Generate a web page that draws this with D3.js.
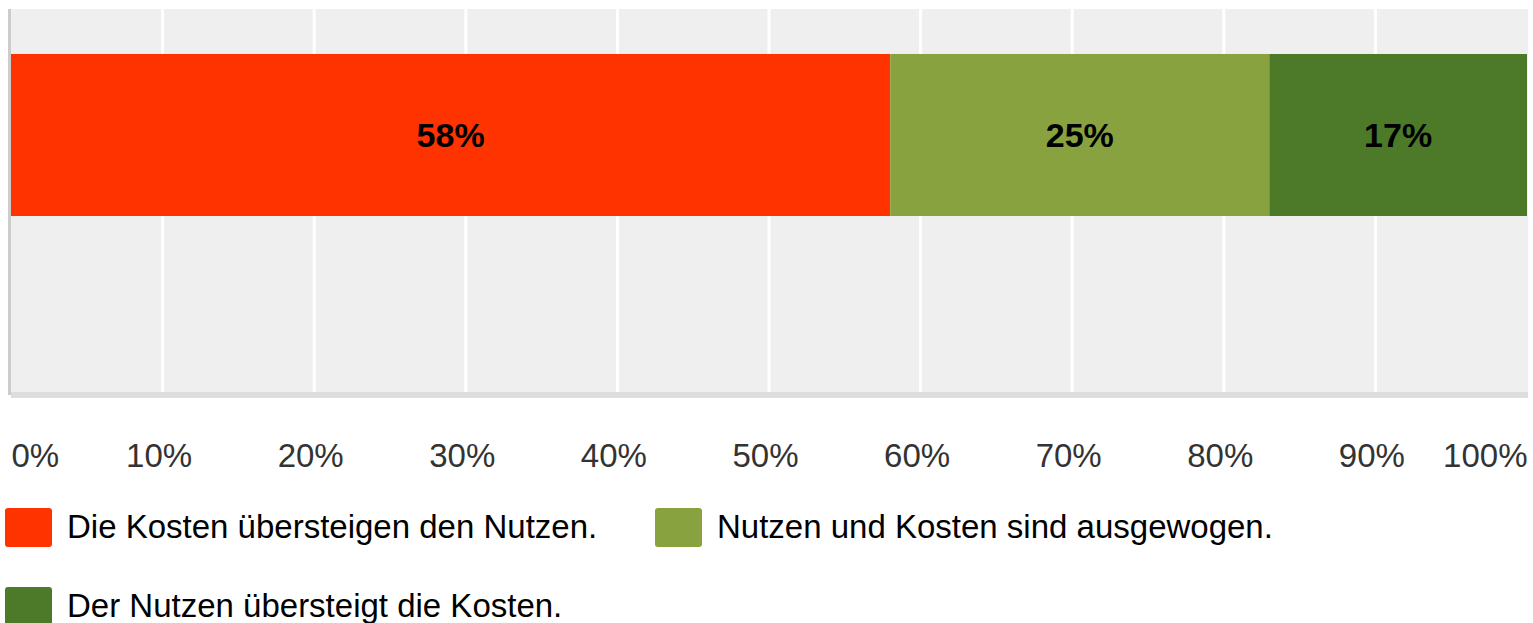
<!DOCTYPE html>
<html>
<head>
<meta charset="utf-8">
<script src="https://cdn.jsdelivr.net/npm/d3@7"></script>
<style>
  body { margin: 0; background: #fff; }
  svg { display: block; }
</style>
</head>
<body>
<div id="viz"></div>
<script>
const categories = ["Antworten"];
const seriesNames = ["Die Kosten übersteigen den Nutzen.", "Nutzen und Kosten sind ausgewogen.", "Der Nutzen übersteigt die Kosten."];
const seriesValues = [58, 25, 17];
const seriesColors = ["#ff3300", "#87a23e", "#4d7a28"];
const tickValues = [0, 10, 20, 30, 40, 50, 60, 70, 80, 90, 100];

const width = 1533, height = 623;
const plot = {left: 11, right: 1528, top: 9, bottom: 392};

const svg = d3.select("#viz").append("svg")
    .attr("width", width)
    .attr("height", height)
    .style("font-family", "'Liberation Sans', Arial, sans-serif");

const x = d3.scaleLinear().domain([0, 100]).range([plot.left, plot.right - 1]);
const y = d3.scaleBand().domain(categories)
    .range([plot.top, plot.bottom])
    .paddingInner(0).paddingOuter(0.682).align(0.2036);

// background and frame
svg.append("rect")
    .attr("x", plot.left).attr("y", plot.top)
    .attr("width", plot.right - plot.left).attr("height", plot.bottom - plot.top)
    .attr("fill", "#efefef");
svg.append("rect")
    .attr("x", plot.left - 3).attr("y", plot.top)
    .attr("width", 3).attr("height", plot.bottom - plot.top + 3)
    .attr("fill", "#cccccc");
svg.append("rect")
    .attr("x", plot.left).attr("y", plot.bottom)
    .attr("width", plot.right - plot.left).attr("height", 6)
    .attr("fill", "#dddddd");

// gridlines
svg.append("g").selectAll("line")
    .data(tickValues.filter(d => d > 0 && d < 100))
    .enter().append("line")
        .attr("x1", d => x(d)).attr("x2", d => x(d))
        .attr("y1", plot.top).attr("y2", plot.bottom)
        .attr("stroke", "#ffffff").attr("stroke-width", 3);

// stacked bar
let acc = 0;
const stacked = seriesValues.map((v, i) => {
    const s = {name: seriesNames[i], value: v, start: acc, color: seriesColors[i]};
    acc += v;
    return s;
});

const bars = svg.append("g");
bars.selectAll("rect")
    .data(stacked)
    .enter().append("rect")
        .attr("x", d => x(d.start))
        .attr("width", d => x(d.start + d.value) - x(d.start))
        .attr("y", y(categories[0]))
        .attr("height", y.bandwidth())
        .attr("fill", d => d.color);

bars.selectAll("text")
    .data(stacked)
    .enter().append("text")
        .attr("x", d => x(d.start + d.value / 2))
        .attr("y", y(categories[0]) + y.bandwidth() / 2)
        .attr("dy", "0.36em")
        .attr("text-anchor", "middle")
        .attr("font-size", 34)
        .attr("font-weight", "bold")
        .attr("fill", "#000")
        .text(d => d.value + "%");

// axis labels
const xAxis = d3.axisBottom(x).tickValues(tickValues).tickFormat(d => d + "%").tickSize(0).tickPadding(0);
const axisG = svg.append("g")
    .attr("transform", `translate(0, 467)`)
    .call(xAxis);
axisG.select(".domain").remove();
axisG.selectAll("text")
    .attr("dy", 0)
    .attr("y", 0)
    .attr("dx", (d, i) => (i === 0 || i === tickValues.length - 1) ? 0 : -4)
    .attr("font-size", 33)
    .attr("font-family", "'Liberation Sans', Arial, sans-serif")
    .attr("fill", "#333")
    .attr("text-anchor", (d, i) => i === 0 ? "start" : (i === tickValues.length - 1 ? "end" : "middle"));

// legend
const legendPos = [[5, 508], [655, 508], [5, 587]];
const legend = svg.append("g").selectAll("g")
    .data(stacked)
    .enter().append("g")
        .attr("transform", (d, i) => `translate(${legendPos[i][0]}, ${legendPos[i][1]})`);
legend.append("rect")
    .attr("width", 47).attr("height", 39)
    .attr("rx", 3)
    .attr("fill", d => d.color);
legend.append("text")
    .attr("x", 62).attr("y", 30)
    .attr("font-size", 33)
    .attr("fill", "#000")
    .text(d => d.name);
</script>
</body>
</html>
